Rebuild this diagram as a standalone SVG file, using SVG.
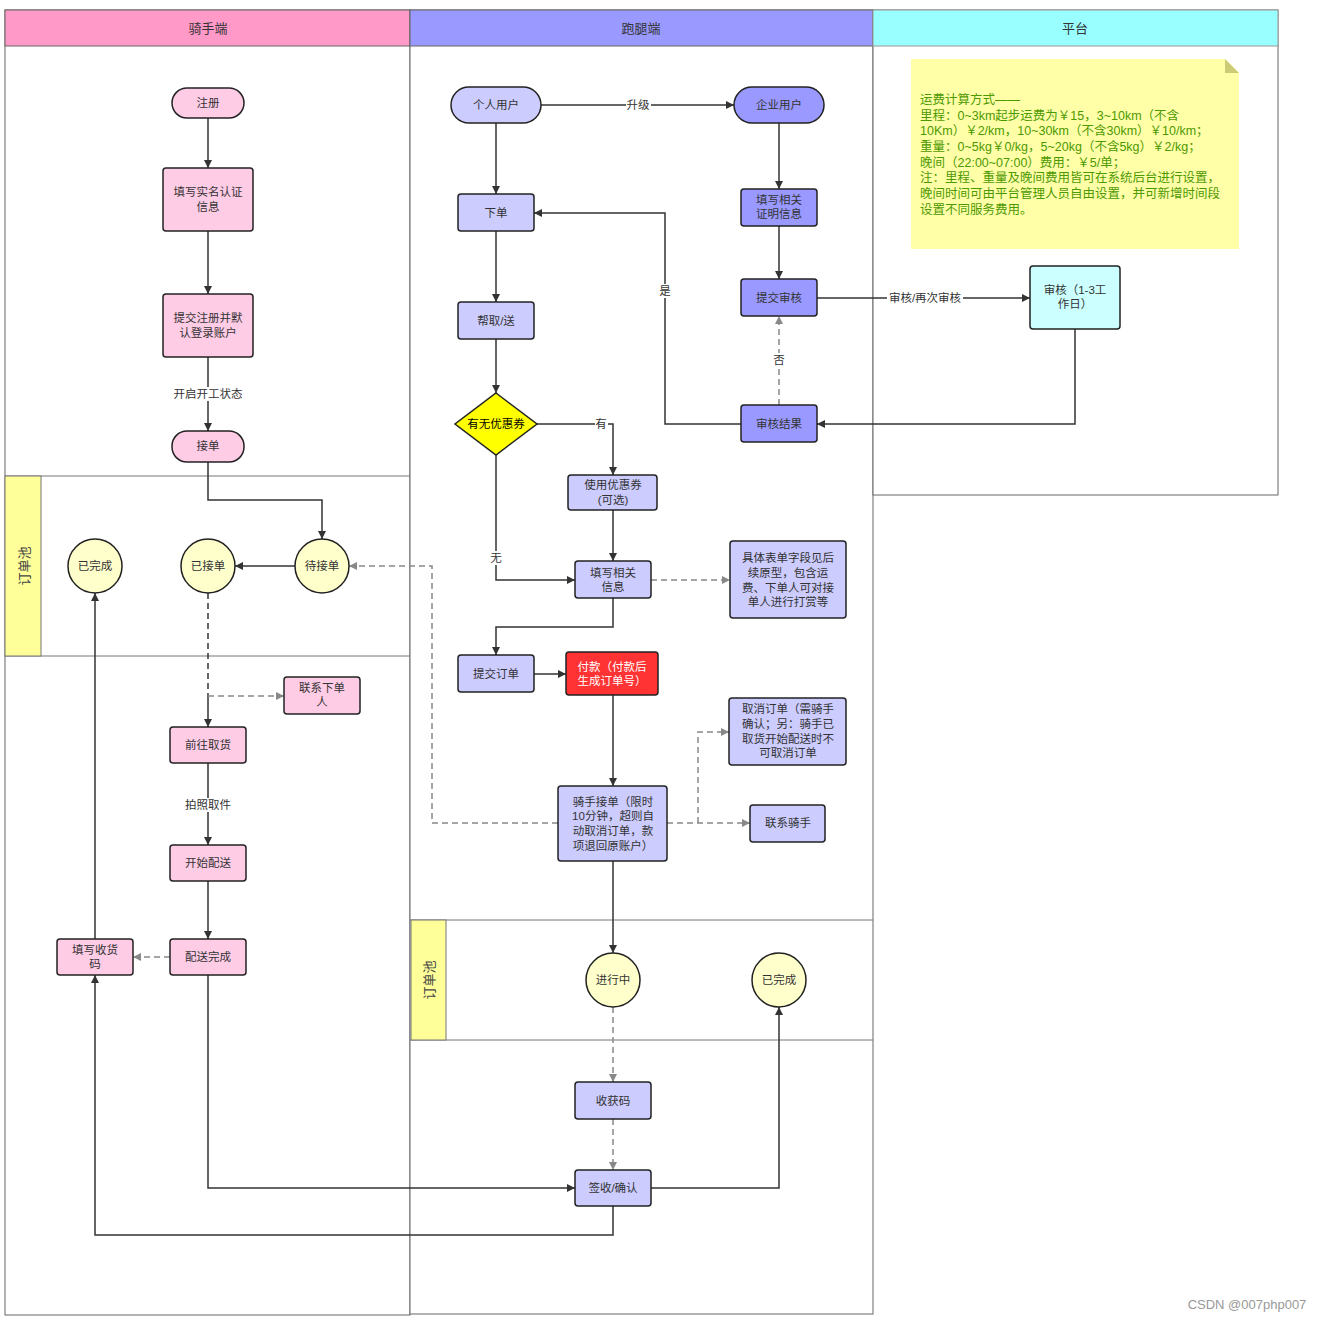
<svg xmlns="http://www.w3.org/2000/svg" width="1321" height="1321" viewBox="0 0 1321 1321">
<style>
text{font-family:"Liberation Sans","Noto Sans CJK SC",sans-serif;font-size:11.5px;fill:#333;text-anchor:middle;dominant-baseline:central}
.hd{font-size:13px}
.vl{font-size:13px;fill:#444}
.lane{fill:#fff;stroke:#666;stroke-width:1}
.sub{fill:none;stroke:#777;stroke-width:1}
.pk{fill:#FFCCE6;stroke:#222;stroke-width:1.5}
.pu{fill:#CCCCFF;stroke:#222;stroke-width:1.5}
.pd{fill:#9999FF;stroke:#222;stroke-width:1.5}
.cy{fill:#CCFFFF;stroke:#222;stroke-width:1.5}
.yc{fill:#FFFFCC;stroke:#222;stroke-width:1.5}
.e{fill:none;stroke:#333;stroke-width:1.5;marker-end:url(#a)}
.en{fill:none;stroke:#333;stroke-width:1.5}
.d{fill:none;stroke:#888;stroke-width:1.5;stroke-dasharray:6 4;marker-end:url(#g)}
.lb{fill:#fff}
.nt{text-anchor:start;dominant-baseline:auto;font-size:12.5px;fill:#4D9900}
</style>
<defs>
<marker id="a" viewBox="0 0 10 10" refX="10" refY="5" markerWidth="9" markerHeight="8" markerUnits="userSpaceOnUse" orient="auto"><path d="M0,0 L10,5 L0,10 z" fill="#333"/></marker>
<marker id="g" viewBox="0 0 10 10" refX="10" refY="5" markerWidth="9" markerHeight="8" markerUnits="userSpaceOnUse" orient="auto"><path d="M0,0 L10,5 L0,10 z" fill="#888"/></marker>
</defs>
<rect width="1321" height="1321" fill="#fff"/>
<g id="lanes">
<rect class="lane" x="5" y="10" width="405" height="1305"/>
<rect x="5" y="10" width="405" height="36" fill="#FF99C8" stroke="#666"/>
<text class="hd" x="208" y="28">骑手端</text>
<rect class="lane" x="410" y="10" width="463" height="1304"/>
<rect x="410" y="10" width="463" height="36" fill="#9999FF" stroke="#666"/>
<text class="hd" x="641" y="28">跑腿端</text>
<rect class="lane" x="873" y="10" width="405" height="485" stroke="#999"/>
<rect x="873" y="10" width="405" height="36" fill="#99FFFF" stroke="#999"/>
<text class="hd" x="1075" y="28">平台</text>
<path class="sub" d="M5,476 H410 M5,656 H410"/>
<rect x="5" y="476" width="36" height="180" fill="#FFFF99" stroke="#777"/>
<text class="vl" x="0" y="0" transform="translate(24,566) rotate(-90)">订单池</text>
<path class="sub" d="M410,920 H873 M410,1040 H873" stroke="#999"/>
<rect x="411" y="920" width="35" height="120" fill="#FFFF99" stroke="#777"/>
<text class="vl" x="0" y="0" transform="translate(429,980) rotate(-90)">订单池</text>
</g>
<g id="connectors">
<path class="e" d="M208,118 V168"/>
<path class="e" d="M208,231 V294"/>
<path class="e" d="M208,357 V431"/>
<rect class="lb" x="173" y="387" width="70" height="14"/><text x="208" y="394">开启开工状态</text>
<path class="e" d="M208,462 V500 H322 V539"/>
<path class="e" d="M295,566 H235"/>
<path class="en" d="M208,593 V696" stroke-dasharray="6 4"/>
<path class="e" d="M208,696 V727"/>
<path class="d" d="M208,696 H284"/>
<path class="e" d="M208,763 V845"/>
<rect class="lb" x="183" y="798" width="50" height="14"/><text x="208" y="805">拍照取件</text>
<path class="e" d="M208,881 V939"/>
<path class="d" d="M170,957 H133"/>
<path class="e" d="M95,939 V593"/>
<path class="e" d="M208,975 V1188 H575"/>
<path class="e" d="M613,1206 V1235 H95 V975"/>
<path class="e" d="M651,1188 H779 V1007"/>
<path class="d" d="M613,1007 V1082"/>
<path class="d" d="M613,1119 V1170"/>
<path class="e" d="M613,861 V953"/>
<path class="d" d="M558,823 H432 V566 H349"/>
<path class="d" d="M667,823 H750"/>
<path class="d" d="M698,823 V732 H729"/>
<path class="e" d="M613,695 V786"/>
<path class="e" d="M534,674 H566"/>
<path class="e" d="M613,598 V627 H496 V655"/>
<path class="d" d="M651,580 H730"/>
<path class="e" d="M613,510 V561"/>
<path class="e" d="M537,424 H613 V475"/>
<rect class="lb" x="595" y="417" width="13" height="14"/><text x="601" y="424">有</text>
<path class="e" d="M496,455 V580 H575"/>
<rect class="lb" x="490" y="551" width="13" height="14"/><text x="496" y="558">无</text>
<path class="e" d="M496,339 V393"/>
<path class="e" d="M496,231 V302"/>
<path class="e" d="M496,123 V194"/>
<path class="e" d="M541,105 H734"/>
<rect class="lb" x="626" y="98" width="25" height="14"/><text x="638" y="105">升级</text>
<path class="e" d="M779,123 V189"/>
<path class="e" d="M779,226 V279"/>
<path class="e" d="M817,298 H1030"/>
<rect class="lb" x="887" y="291" width="76" height="14"/><text x="925" y="298">审核/再次审核</text>
<path class="e" d="M1075,329 V424 H817"/>
<path class="d" d="M779,405 V316"/>
<rect class="lb" x="773" y="353" width="13" height="14"/><text x="779" y="360">否</text>
<path class="e" d="M741,424 H665 V213 H534"/>
<rect class="lb" x="659" y="284" width="13" height="14"/><text x="665" y="291">是</text>
</g>
<g id="n-zhuce"><rect class="pk" x="172" y="88" width="72" height="30" rx="15"/><text x="208" y="103">注册</text></g>
<g id="n-shiming"><rect class="pk" x="163" y="168" width="90" height="63" rx="3"/><text x="208" y="192">填写实名认证</text><text x="208" y="207">信息</text></g>
<g id="n-tijiaozhuce"><rect class="pk" x="163" y="294" width="90" height="63" rx="3"/><text x="208" y="318">提交注册并默</text><text x="208" y="333">认登录账户</text></g>
<g id="n-jiedan"><rect class="pk" x="172" y="431" width="72" height="31" rx="15"/><text x="208" y="446">接单</text></g>
<g id="n-yiwancheng1"><circle class="yc" cx="95" cy="566" r="27"/><text x="95" y="566">已完成</text></g>
<g id="n-yijiedan"><circle class="yc" cx="208" cy="566" r="27"/><text x="208" y="566">已接单</text></g>
<g id="n-daijiedan"><circle class="yc" cx="322" cy="566" r="27"/><text x="322" y="566">待接单</text></g>
<g id="n-lianxixiadan"><rect class="pk" x="284" y="677" width="76" height="37" rx="3"/><text x="322" y="688">联系下单</text><text x="322" y="702">人</text></g>
<g id="n-qianwang"><rect class="pk" x="170" y="727" width="76" height="36" rx="3"/><text x="208" y="745">前往取货</text></g>
<g id="n-kaishi"><rect class="pk" x="170" y="845" width="76" height="36" rx="3"/><text x="208" y="863">开始配送</text></g>
<g id="n-peisong"><rect class="pk" x="170" y="939" width="76" height="36" rx="3"/><text x="208" y="957">配送完成</text></g>
<g id="n-shouhuoma"><rect class="pk" x="57" y="939" width="76" height="36" rx="3"/><text x="95" y="950">填写收货</text><text x="95" y="964">码</text></g>
<g id="n-geren"><rect class="pu" x="451" y="87" width="90" height="36" rx="18"/><text x="496" y="105">个人用户</text></g>
<g id="n-qiye"><rect class="pd" x="734" y="87" width="90" height="36" rx="18"/><text x="779" y="105">企业用户</text></g>
<g id="n-xiadan"><rect class="pu" x="458" y="194" width="76" height="37" rx="3"/><text x="496" y="213">下单</text></g>
<g id="n-zhengming"><rect class="pd" x="741" y="189" width="76" height="37" rx="3"/><text x="779" y="200">填写相关</text><text x="779" y="214">证明信息</text></g>
<g id="n-bangqu"><rect class="pu" x="458" y="302" width="76" height="37" rx="3"/><text x="496" y="321">帮取/送</text></g>
<g id="n-tijiaoshenhe"><rect class="pd" x="741" y="279" width="76" height="37" rx="3"/><text x="779" y="298">提交审核</text></g>
<g id="n-youhuiquan"><path d="M496,393 L537,424 L496,455 L455,424 Z" fill="#FFFF00" stroke="#222" stroke-width="1.5"/><text x="496" y="424" style="fill:#000">有无优惠券</text></g>
<g id="n-shenhejieguo"><rect class="pd" x="741" y="405" width="76" height="37" rx="3"/><text x="779" y="424">审核结果</text></g>
<g id="n-shiyong"><rect class="pu" x="568" y="475" width="89" height="35" rx="3"/><text x="613" y="485">使用优惠券</text><text x="613" y="500">(可选)</text></g>
<g id="n-tianxie"><rect class="pu" x="575" y="561" width="76" height="37" rx="3"/><text x="613" y="573">填写相关</text><text x="613" y="587">信息</text></g>
<g id="n-juti"><rect class="pu" x="730" y="541" width="116" height="77" rx="3"/><text x="788" y="558">具体表单字段见后</text><text x="788" y="573">续原型，包含运</text><text x="788" y="588">费、下单人可对接</text><text x="788" y="602">单人进行打赏等</text></g>
<g id="n-tijiaodingdan"><rect class="pu" x="458" y="655" width="76" height="37" rx="3"/><text x="496" y="674">提交订单</text></g>
<g id="n-fukuan"><rect x="566" y="652" width="92" height="43" rx="3" fill="#FF3333" stroke="#222" stroke-width="1.5"/><text x="612" y="667" style="fill:#fff">付款（付款后</text><text x="612" y="681" style="fill:#fff">生成订单号）</text></g>
<g id="n-quxiao"><rect class="pu" x="729" y="698" width="117" height="67" rx="3"/><text x="788" y="709">取消订单（需骑手</text><text x="788" y="724">确认；另：骑手已</text><text x="788" y="739">取货开始配送时不</text><text x="788" y="753">可取消订单</text></g>
<g id="n-qishoujiedan"><rect class="pu" x="558" y="786" width="109" height="75" rx="3"/><text x="613" y="802">骑手接单（限时</text><text x="613" y="816">10分钟，超则自</text><text x="613" y="831">动取消订单，款</text><text x="613" y="846">项退回原账户）</text></g>
<g id="n-lianxiqishou"><rect class="pu" x="750" y="805" width="75" height="37" rx="3"/><text x="788" y="823">联系骑手</text></g>
<g id="n-jinxing"><circle class="yc" cx="613" cy="980" r="27"/><text x="613" y="980">进行中</text></g>
<g id="n-yiwancheng2"><circle class="yc" cx="779" cy="980" r="27"/><text x="779" y="980">已完成</text></g>
<g id="n-shouhuo"><rect class="pu" x="575" y="1082" width="76" height="37" rx="3"/><text x="613" y="1101">收获码</text></g>
<g id="n-qianshou"><rect class="pu" x="575" y="1170" width="76" height="36" rx="3"/><text x="613" y="1188">签收/确认</text></g>
<g id="n-shenhe"><rect class="cy" x="1030" y="266" width="90" height="63" rx="3"/><text x="1075" y="290">审核（1-3工</text><text x="1075" y="304">作日）</text></g>
<g id="n-note">
<path d="M911,59 H1225 L1239,73 V249 H911 Z" fill="#FFFFA8"/>
<path d="M1225,59 L1239,73 H1225 Z" fill="#CCCC77"/>
<text class="nt" x="920" y="104">运费计算方式——</text>
<text class="nt" x="920" y="120">里程：0~3km起步运费为￥15，3~10km（不含</text>
<text class="nt" x="920" y="135">10Km）￥2/km，10~30km（不含30km）￥10/km；</text>
<text class="nt" x="920" y="151">重量：0~5kg￥0/kg，5~20kg（不含5kg）￥2/kg；</text>
<text class="nt" x="920" y="167">晚间（22:00~07:00）费用：￥5/单；</text>
<text class="nt" x="920" y="182">注：里程、重量及晚间费用皆可在系统后台进行设置，</text>
<text class="nt" x="920" y="198">晚间时间可由平台管理人员自由设置，并可新增时间段</text>
<text class="nt" x="920" y="214">设置不同服务费用。</text>
</g>
<text x="1247" y="1304" style="font-size:13px;fill:#999">CSDN @007php007</text>
</svg>
